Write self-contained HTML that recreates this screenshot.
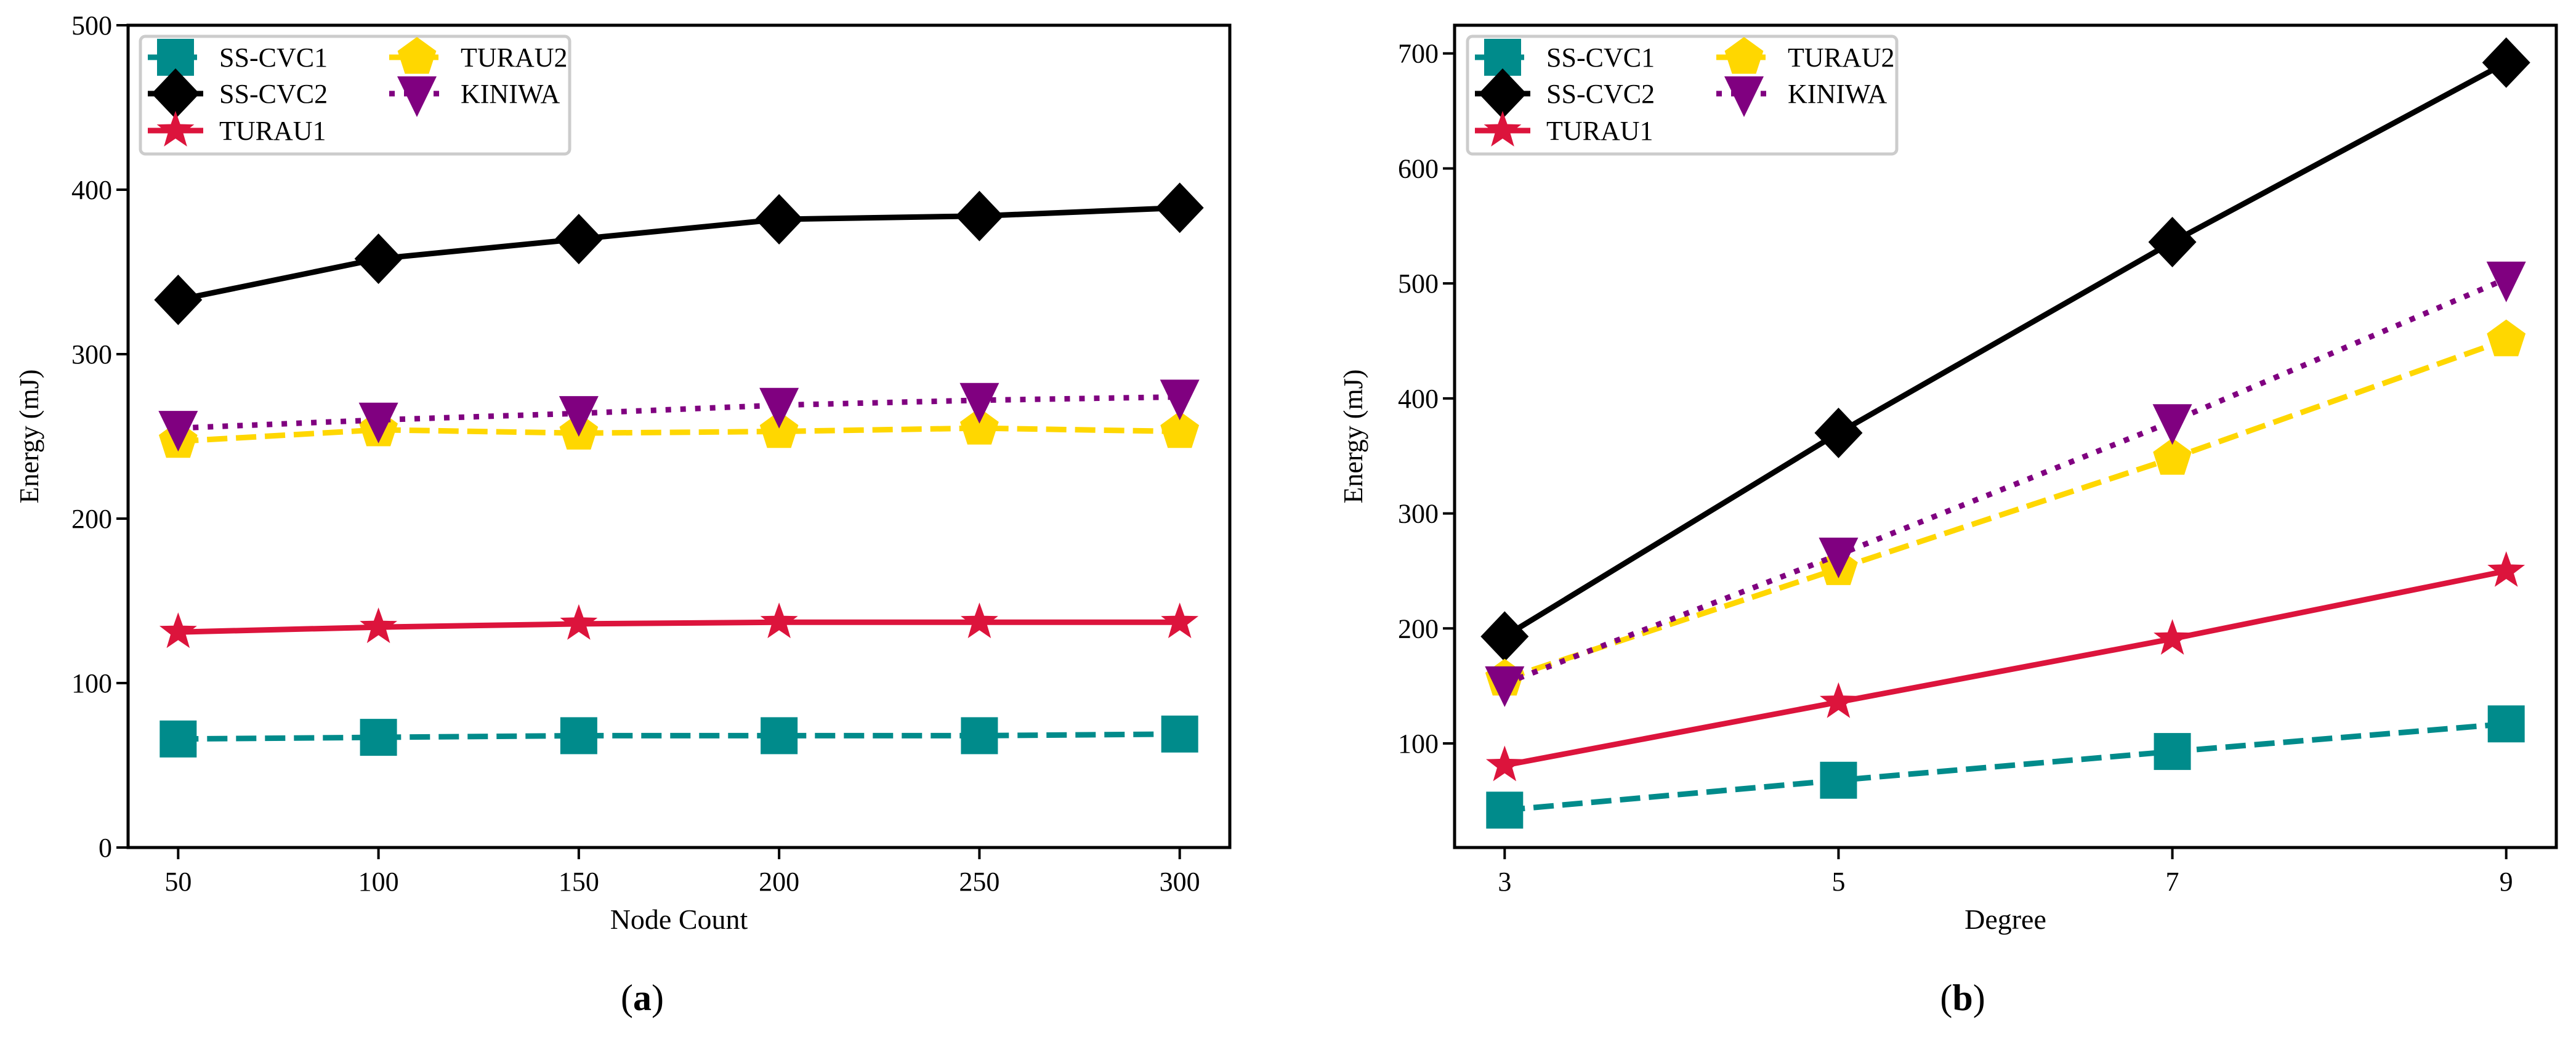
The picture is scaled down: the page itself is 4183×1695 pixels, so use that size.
<!DOCTYPE html>
<html><head><meta charset="utf-8">
<style>
html,body{margin:0;padding:0;background:#fff;}
svg{display:block;}
text{font-family:"Liberation Serif",serif;fill:#000;}
</style></head>
<body>
<svg id="chart" width="4183" height="1695" viewBox="0 0 4183 1695" xmlns="http://www.w3.org/2000/svg"></svg>
<script>
const seriesNames = ["SS-CVC1","SS-CVC2","TURAU1","TURAU2","KINIWA"];
const nodeCounts = [50,100,150,200,250,300];
const aCVC1 = [66,67,68,68,68,69];
const aCVC2 = [333,358,370,382,384,389];
const aTURAU1 = [131,134,136,137,137,137];
const aTURAU2 = [247,254,252,253,255,253];
const aKINIWA = [255,260,264,269,272,274];
const degrees = [3,5,7,9];
const bCVC1 = [42,68,93,117];
const bCVC2 = [193,370,536,692];
const bTURAU1 = [81,136,191,250];
const bTURAU2 = [156,252,348,451];
const bKINIWA = [152,264,380,504];
const aYTicks = [0,100,200,300,400,500];
const bYTicks = [100,200,300,400,500,600,700];

const NS="http://www.w3.org/2000/svg";
const svg=document.getElementById('chart');
function mk(tag,attrs,parent){const e=document.createElementNS(NS,tag);for(const k in attrs)e.setAttribute(k,attrs[k]);(parent||svg).appendChild(e);return e;}

const styles=[
 {color:"#008B8B",dash:"33,14",marker:"square"},
 {color:"#000000",dash:"",marker:"diamond"},
 {color:"#DC143C",dash:"",marker:"star"},
 {color:"#FFD700",dash:"33,14",marker:"pentagon"},
 {color:"#800080",dash:"9,15",marker:"tri"}
];

function marker(type,cx,cy,color,parent,name){
  let el;
  if(type==="square"){el=mk('rect',{x:cx-30,y:cy-30,width:60,height:60,fill:color},parent);}
  else if(type==="diamond"){el=mk('polygon',{points:`${cx},${cy-41} ${cx+39},${cy} ${cx},${cy+41} ${cx-39},${cy}`,fill:color},parent);}
  else if(type==="star"){let p=[];for(let i=0;i<10;i++){const r=i%2?13:32;const a=-Math.PI/2+i*Math.PI/5;p.push((cx+r*Math.cos(a)).toFixed(1)+","+(cy+r*Math.sin(a)).toFixed(1));}el=mk('polygon',{points:p.join(' '),fill:color},parent);}
  else if(type==="pentagon"){let p=[];for(let i=0;i<5;i++){const a=-Math.PI/2+i*2*Math.PI/5;p.push((cx+33*Math.cos(a)).toFixed(1)+","+(cy+33*Math.sin(a)).toFixed(1));}el=mk('polygon',{points:p.join(' '),fill:color},parent);}
  else {el=mk('polygon',{points:`${cx-32},${cy-28} ${cx+32},${cy-28} ${cx},${cy+38}`,fill:color},parent);}
  
  
  return el;
}

function drawPanel(cfg){
  const g=mk('g',{});
  
  
  const X=v=>cfg.x0+(v-cfg.xmin)/(cfg.xmax-cfg.xmin)*(cfg.x1-cfg.x0);
  const Y=v=>cfg.y1-(v-cfg.ymin)/(cfg.ymax-cfg.ymin)*(cfg.y1-cfg.y0);
  cfg.series.forEach((vals,si)=>{
    const st=styles[si];
    const pts=vals.map((v,i)=>X(cfg.xs[i]).toFixed(1)+","+Y(v).toFixed(1)).join(' ');
    const line=mk('polyline',{points:pts,fill:"none",stroke:st.color,"stroke-width":9,"stroke-dasharray":st.dash||"none","stroke-linejoin":"round"},g);
    
    
    vals.forEach((v,i)=>marker(st.marker,X(cfg.xs[i]),Y(v),st.color,g,'point-'+seriesNames[si].toLowerCase()));
  });
  const frame=mk('rect',{x:cfg.x0,y:cfg.y0,width:cfg.x1-cfg.x0,height:cfg.y1-cfg.y0,fill:"none",stroke:"#000","stroke-width":5},g);
  
  
  cfg.xs.forEach(v=>{
    mk('line',{x1:X(v),x2:X(v),y1:cfg.y1,y2:cfg.y1+19,stroke:"#000","stroke-width":4},g);
    const t=mk('text',{x:X(v),y:1446,"font-size":44,"text-anchor":"middle"},g);t.textContent=v;
    
    
  });
  cfg.yticks.forEach(v=>{
    mk('line',{x1:cfg.x0-19,x2:cfg.x0,y1:Y(v),y2:Y(v),stroke:"#000","stroke-width":4},g);
    const t=mk('text',{x:cfg.x0-26,y:Y(v)+15,"font-size":44,"text-anchor":"end"},g);t.textContent=v;
    
    
  });
  const xl=mk('text',{x:(cfg.x0+cfg.x1)/2,y:1508,"font-size":46,"text-anchor":"middle"},g);xl.textContent=cfg.xlabel;
  
  
  const yl=mk('text',{x:0,y:0,"font-size":44,"text-anchor":"middle",transform:`translate(${cfg.ylx},${(cfg.y0+cfg.y1)/2}) rotate(-90)`},g);yl.textContent="Energy (mJ)";
  
  
  const cap=mk('text',{x:cfg.capx,y:1640,"font-size":60,"text-anchor":"middle"},g);
  cap.innerHTML='(<tspan font-weight="bold">'+cfg.cap+'</tspan>)';
  
  
  const lg=mk('g',{},g);
  
  
  const lx=cfg.legx;
  mk('rect',{x:lx,y:59,width:697,height:191,rx:8,fill:"#fff","fill-opacity":0.8,stroke:"#ccc","stroke-width":5},lg);
  const pos=[[0,93],[0,152],[0,212],[392,93],[392,152]];
  seriesNames.forEach((n,si)=>{
    const st=styles[si];const px=lx+pos[si][0];const py=pos[si][1];
    const e=mk('g',{},lg);
    
    
    mk('line',{x1:px+12,x2:px+102,y1:py,y2:py,stroke:st.color,"stroke-width":9,"stroke-dasharray":st.dash||"none"},e);
    marker(st.marker,px+57,py,st.color,e,'legend-marker');
    const t=mk('text',{x:px+128,y:py+15,"font-size":44},e);t.textContent=n;
  });
}

drawPanel({name:"panel-a",x0:208,x1:1997,y0:41,y1:1376,xmin:37.5,xmax:312.5,ymin:0,ymax:500,
  xs:nodeCounts,yticks:aYTicks,series:[aCVC1,aCVC2,aTURAU1,aTURAU2,aKINIWA],
  xlabel:"Node Count",ylx:62,capx:1043,cap:"a",legx:228});
drawPanel({name:"panel-b",x0:2362,x1:4151,y0:41,y1:1376,xmin:2.7,xmax:9.3,ymin:9.5,ymax:724.5,
  xs:degrees,yticks:bYTicks,series:[bCVC1,bCVC2,bTURAU1,bTURAU2,bKINIWA],
  xlabel:"Degree",ylx:2212,capx:3187,cap:"b",legx:2383});
</script>
</body></html>
